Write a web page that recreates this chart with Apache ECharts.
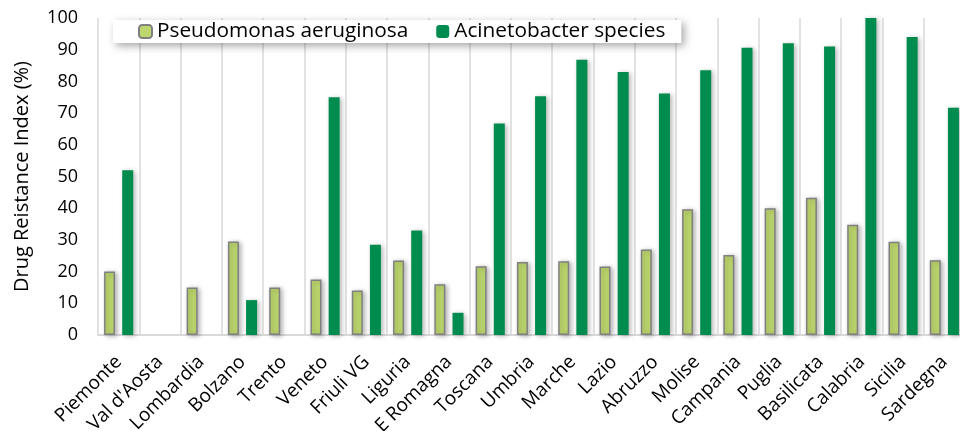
<!DOCTYPE html>
<html>
<head>
<meta charset="utf-8">
<script src="https://cdn.jsdelivr.net/npm/echarts@6/dist/echarts.min.js"></script>
<style>html,body{margin:0;padding:0;background:#fff;}#c{width:960px;height:431px;}</style>
</head>
<body>
<div id="c"></div>
<script>
const categories = ['Piemonte',"Val d'Aosta",'Lombardia','Bolzano','Trento','Veneto','Friuli VG','Liguria','E Romagna','Toscana','Umbria','Marche','Lazio','Abruzzo','Molise','Campania','Puglia','Basilicata','Calabria','Sicilia','Sardegna'];
const pseudomonas = [20, null, 15, 29.5, 15, 17.5, 14, 23.5, 16, 21.7, 23, 23.3, 21.6, 27, 39.7, 25.2, 40, 43.3, 34.8, 29.4, 23.6];
const acinetobacter = [52, null, null, 11, null, 75, 28.5, 33, 7, 66.7, 75.3, 86.8, 83, 76.2, 83.5, 90.6, 92, 91, 100, 94, 71.7];
const yTicks = {min: 0, max: 100, interval: 10};
const seriesNames = ['Pseudomonas aeruginosa', 'Acinetobacter species'];

const font = '"Open Sans", sans-serif';
const chart = echarts.init(document.getElementById('c'));
chart.setOption({
  animation: false,
  textStyle: {fontFamily: font},
  grid: {left: 98, right: -5, top: 18, bottom: 96, containLabel: false, outerBoundsMode: 'none'},
  legend: {
    left: 113, top: 20,
    padding: [1, 16, 1, 25],
    backgroundColor: '#fff',
    shadowBlur: 8, shadowColor: 'rgba(0,0,0,0.35)', shadowOffsetX: 3, shadowOffsetY: 3,
    itemWidth: 13, itemHeight: 13, itemGap: 28,
    textStyle: {fontFamily: font, fontSize: 20.8, color: '#000'},
    data: seriesNames
  },
  xAxis: {
    type: 'category',
    data: categories,
    axisLine: {lineStyle: {color: '#d9d9d9', width: 2}},
    axisTick: {show: false},
    splitLine: {show: true, lineStyle: {color: '#d9d9d9', width: 1.5}},
    axisLabel: {rotate: 45, interval: 0, fontSize: 19, color: '#000', fontFamily: font, margin: 24}
  },
  yAxis: {
    type: 'value',
    min: yTicks.min, max: yTicks.max, interval: yTicks.interval,
    name: 'Drug Reistance Index (%)',
    nameLocation: 'middle', nameGap: 66,
    nameTextStyle: {fontSize: 20, color: '#000', fontFamily: font},
    axisLine: {show: false},
    axisTick: {show: false},
    splitLine: {show: false},
    axisLabel: {fontSize: 18, color: '#000', fontFamily: font, margin: 20}
  },
  series: [
    {
      name: seriesNames[0], type: 'bar', data: pseudomonas,
      barWidth: 11, barGap: '65%',
      itemStyle: {color: '#bdd76e', borderColor: '#808080', borderWidth: 1.5,
        shadowBlur: 5, shadowColor: 'rgba(0,0,0,0.3)', shadowOffsetX: 2, shadowOffsetY: 1}
    },
    {
      name: seriesNames[1], type: 'bar', data: acinetobacter,
      barWidth: 11,
      itemStyle: {color: '#008b4f',
        shadowBlur: 5, shadowColor: 'rgba(0,0,0,0.3)', shadowOffsetX: 2, shadowOffsetY: 1}
    }
  ]
});
</script>
</body>
</html>
